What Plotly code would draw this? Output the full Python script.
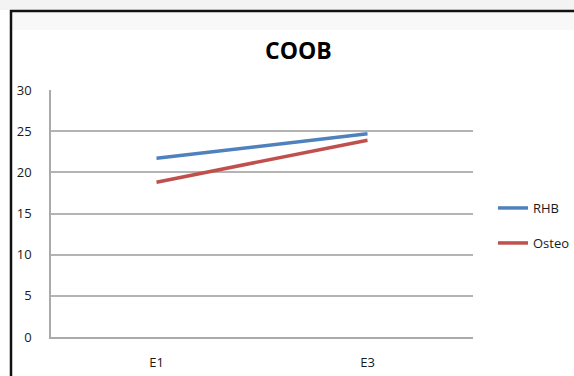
import plotly.graph_objects as go

categories = ["E1", "E3"]
rhb = [21.7, 24.7]
osteo = [18.8, 23.9]
y_ticks = [0, 5, 10, 15, 20, 25, 30]

W, H = 574, 376
L, R, T, B = 51, 101, 90, 39
pw, ph = W - L - R, H - T - B

def px_x(px):
    return (px - L) / pw

def px_y(py):
    return (H - B - py) / ph

font = "Open Sans, Liberation Sans, sans-serif"

fig = go.Figure()
fig.add_trace(go.Scatter(x=categories, y=rhb, mode="lines", name="RHB",
                         line=dict(color="#4F81BD", width=3.5), legend="legend"))
fig.add_trace(go.Scatter(x=categories, y=osteo, mode="lines", name="Osteo",
                         line=dict(color="#C0504D", width=3.5), legend="legend2"))

fig.update_layout(
    template="none",
    width=W, height=H,
    margin=dict(l=L, r=R, t=T, b=B, pad=0, autoexpand=False),
    paper_bgcolor="white", plot_bgcolor="white",
    font=dict(family=font, size=13, color="#1a1a1a"),
    xaxis=dict(type="category", range=[-0.5, 1.5], showgrid=False,
               showline=True, linecolor="#aaaaaa", linewidth=1.5,
               ticks="", ticklabelstandoff=13, tickfont=dict(size=13),
               automargin=False, fixedrange=True),
    yaxis=dict(range=[0, 30], tickvals=y_ticks, showgrid=True,
               gridcolor="#b4b4b4", gridwidth=1.5, zeroline=False,
               showline=True, linecolor="#aaaaaa", linewidth=1.5,
               ticks="", ticklabelstandoff=15, tickfont=dict(size=13),
               automargin=False, fixedrange=True),
    showlegend=True,
    legend=dict(x=px_x(493), y=px_y(208), xanchor="left", yanchor="middle",
                bgcolor="rgba(0,0,0,0)", font=dict(size=13), itemwidth=30),
    legend2=dict(x=px_x(493), y=px_y(243), xanchor="left", yanchor="middle",
                 bgcolor="rgba(0,0,0,0)", font=dict(size=13), itemwidth=30),
    shapes=[
        dict(type="rect", xref="paper", yref="paper",
             x0=px_x(0), x1=px_x(W), y0=px_y(0), y1=px_y(10),
             fillcolor="#f3f3f3", line=dict(width=0), layer="below"),
        dict(type="rect", xref="paper", yref="paper",
             x0=px_x(12), x1=px_x(W), y0=px_y(12), y1=px_y(30),
             fillcolor="#f8f8f8", line=dict(width=0), layer="below"),
        dict(type="line", xref="paper", yref="paper",
             x0=px_x(11), x1=px_x(11), y0=px_y(10), y1=px_y(H),
             line=dict(color="#111", width=2.5)),
        dict(type="line", xref="paper", yref="paper",
             x0=px_x(10), x1=px_x(W), y0=px_y(11), y1=px_y(11),
             line=dict(color="#111", width=2.5)),
    ],
    annotations=[
        dict(text="<b>COOB</b>", xref="paper", yref="paper",
             x=px_x(298), y=px_y(50), xanchor="center", yanchor="middle",
             showarrow=False, font=dict(size=23, family=font, color="#000")),
    ],
)

fig.write_html("out.html", config={"displayModeBar": False},
               post_script="document.body.style.margin='0';document.body.style.overflow='hidden';")
